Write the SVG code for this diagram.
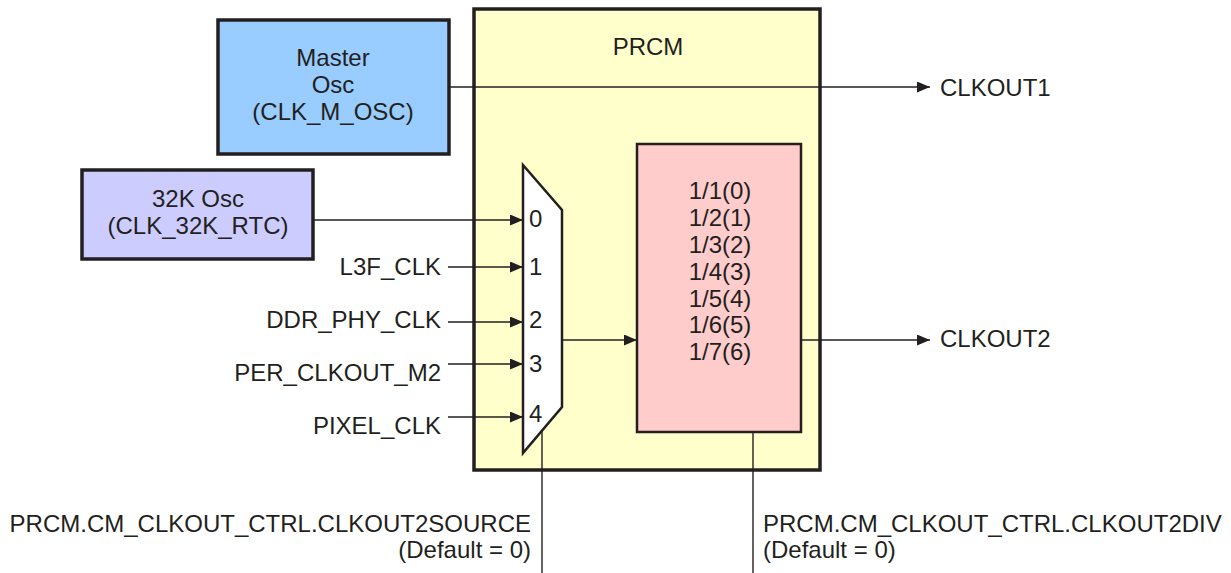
<svg xmlns="http://www.w3.org/2000/svg" width="1231" height="573" viewBox="0 0 1231 573">
<style>
text{font-family:"Liberation Sans",Arial,sans-serif;font-size:24px;fill:#231f20}
.m{text-anchor:middle}.e{text-anchor:end}
.box{stroke:#231f20;stroke-width:3.5}
.ln{stroke:#231f20;stroke-width:1.4;fill:none}
</style>
<defs>
<marker id="ah" viewBox="0 0 13 11" refX="13" refY="5.5" markerWidth="13" markerHeight="11" markerUnits="userSpaceOnUse" orient="auto">
<path d="M0,0L13,5.5L0,11z" fill="#231f20"/>
</marker>
</defs>
<g id="prcm">
<rect class="box" x="474" y="9" width="346" height="461" fill="#ffffcc"/>
<text class="m" x="648" y="55">PRCM</text>
</g>
<g id="master-osc">
<rect class="box" x="218" y="20" width="231" height="134" fill="#99ccff"/>
<text class="m" x="333" y="66">Master</text>
<text class="m" x="333" y="93">Osc</text>
<text class="m" x="333" y="120">(CLK_M_OSC)</text>
</g>
<g id="osc-32k">
<rect class="box" x="82" y="170" width="231" height="89" fill="#ccccff"/>
<text class="m" x="198" y="207">32K Osc</text>
<text class="m" x="198" y="234">(CLK_32K_RTC)</text>
</g>
<g id="mux">
<polygon points="523,165 562,210 562,407 523,453" fill="#ffffff" stroke="#231f20" stroke-width="2.5"/>
<text x="529" y="227">0</text>
<text x="529" y="275">1</text>
<text x="529" y="328">2</text>
<text x="529" y="372">3</text>
<text x="529" y="422">4</text>
</g>
<g id="divider">
<rect x="637" y="144" width="164" height="288" fill="#ffcccc" stroke="#231f20" stroke-width="2.5"/>
<text class="m" x="720" y="199">1/1(0)</text>
<text class="m" x="720" y="226">1/2(1)</text>
<text class="m" x="720" y="253">1/3(2)</text>
<text class="m" x="720" y="280">1/4(3)</text>
<text class="m" x="720" y="307">1/5(4)</text>
<text class="m" x="720" y="333">1/6(5)</text>
<text class="m" x="720" y="360">1/7(6)</text>
</g>
<g id="labels">
<text x="940" y="96">CLKOUT1</text>
<text x="940" y="347">CLKOUT2</text>
<text class="e" x="441" y="275">L3F_CLK</text>
<text class="e" x="441" y="328">DDR_PHY_CLK</text>
<text class="e" x="441" y="381">PER_CLKOUT_M2</text>
<text class="e" x="441" y="434">PIXEL_CLK</text>
<text class="e" x="531" y="532">PRCM.CM_CLKOUT_CTRL.CLKOUT2SOURCE</text>
<text class="e" x="531" y="558">(Default = 0)</text>
<text x="763" y="532">PRCM.CM_CLKOUT_CTRL.CLKOUT2DIV</text>
<text x="763" y="558">(Default = 0)</text>
</g>
<g id="connectors">
<line class="ln" x1="449" y1="87" x2="930" y2="87" marker-end="url(#ah)"/>
<line class="ln" x1="313" y1="220" x2="523" y2="220" marker-end="url(#ah)"/>
<line class="ln" x1="448" y1="267" x2="523" y2="267" marker-end="url(#ah)"/>
<line class="ln" x1="448" y1="322" x2="523" y2="322" marker-end="url(#ah)"/>
<line class="ln" x1="448" y1="364" x2="523" y2="364" marker-end="url(#ah)"/>
<line class="ln" x1="448" y1="417" x2="523" y2="417" marker-end="url(#ah)"/>
<line class="ln" x1="562" y1="340" x2="637" y2="340" marker-end="url(#ah)"/>
<line class="ln" x1="801" y1="340" x2="930" y2="340" marker-end="url(#ah)"/>
<line class="ln" x1="542" y1="431" x2="542" y2="573"/>
<line class="ln" x1="753" y1="432" x2="753" y2="573"/>
</g>
</svg>
